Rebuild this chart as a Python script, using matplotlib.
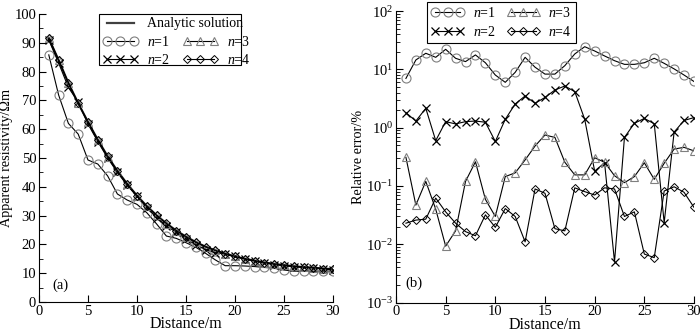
import numpy as np
import matplotlib.pyplot as plt
from matplotlib.patches import Rectangle
from matplotlib.ticker import MultipleLocator, LogLocator, NullFormatter

plt.rcParams['font.family'] = ['Liberation Serif', 'DejaVu Serif']
plt.rcParams['mathtext.fontset'] = 'custom'
plt.rcParams['mathtext.rm'] = 'Liberation Serif'
plt.rcParams['mathtext.it'] = 'Liberation Serif:italic'
plt.rcParams['font.size'] = 10

# Distance along profile (m)
distance = np.arange(1, 31)

# (a) apparent resistivity, Ohm m
rho_analytic = [91.5, 84.0, 76.0, 69.0, 62.5, 56.3, 50.6, 45.5, 41.0, 36.9,
                33.3, 30.1, 27.3, 24.8, 22.7, 20.8, 19.2, 17.9, 16.8, 15.8,
                15.0, 14.3, 13.7, 13.2, 12.8, 12.4, 12.1, 11.9, 11.6, 11.4]
rho_n1 = [85.8, 71.9, 62.0, 58.3, 49.3, 47.9, 43.8, 37.5, 35.4, 33.9,
          31.0, 27.1, 22.9, 22.1, 20.6, 19.0, 16.9, 14.6, 12.6, 12.6,
          12.5, 12.3, 12.0, 11.7, 11.1, 10.7, 10.7, 10.7, 10.7, 10.7]
rho_n2 = [91.0, 83.0, 74.5, 69.4, 61.8, 55.7, 50.0, 45.0, 40.5, 36.7,
          32.8, 29.3, 26.4, 24.2, 21.9, 19.9, 18.2, 17.1, 16.6, 15.8,
          15.0, 14.3, 13.6, 13.0, 12.6, 12.3, 12.1, 11.8, 11.5, 11.2]
rho_n3 = [91.8, 84.0, 76.1, 69.0, 62.5, 56.3, 50.5, 45.4, 41.0, 36.9,
          33.2, 30.1, 27.2, 24.7, 22.5, 20.7, 19.2, 17.9, 16.8, 15.8,
          15.0, 14.3, 13.7, 13.2, 12.8, 12.4, 12.1, 11.9, 11.6, 11.4]
rho_n4 = [91.5, 84.0, 76.0, 69.0, 62.5, 56.3, 50.6, 45.5, 41.0, 36.9,
          33.3, 30.1, 27.3, 24.8, 22.7, 20.8, 19.2, 17.9, 16.8, 15.8,
          15.0, 14.3, 13.7, 13.2, 12.8, 12.4, 12.1, 11.9, 11.6, 11.4]

# (b) relative error, %
err_n1 = [7.0, 14.5, 18.9, 16.1, 22.1, 15.5, 13.6, 17.7, 13.0, 8.0,
          6.0, 8.9, 16.1, 10.9, 8.3, 8.3, 11.6, 18.4, 24.5, 20.7,
          17.0, 14.1, 12.2, 12.2, 13.0, 15.5, 12.7, 10.2, 8.0, 6.2]
err_n2 = [1.81, 1.30, 2.15, 0.60, 1.27, 1.16, 1.27, 1.30, 1.24, 0.58,
          1.39, 2.55, 3.50, 2.62, 3.30, 4.43, 5.19, 4.15, 1.39, 0.18,
          0.25, 0.005, 0.68, 1.19, 1.44, 1.17, 0.0234, 0.84, 1.33, 1.49]
err_n3 = [0.31, 0.047, 0.12, 0.040, 0.0093, 0.017, 0.12, 0.26, 0.059, 0.030,
          0.145, 0.168, 0.28, 0.485, 0.75, 0.68, 0.255, 0.155, 0.155, 0.305,
          0.255, 0.15, 0.114, 0.145, 0.25, 0.13, 0.245, 0.43, 0.46, 0.40]
err_n4 = [0.023, 0.026, 0.027, 0.062, 0.036, 0.023, 0.0165, 0.014, 0.032, 0.0195,
          0.041, 0.030, 0.011, 0.089, 0.075, 0.0185, 0.017, 0.093, 0.080, 0.070,
          0.093, 0.089, 0.030, 0.036, 0.0068, 0.0059, 0.082, 0.097, 0.078, 0.043]

gray = '#7f7f7f'
styles = {
    'n1': dict(marker='o', ms=6.5, mec=gray, mfc='none', mew=0.8),
    'n2': dict(marker='x', ms=5.5, mec='black', mew=0.9),
    'n3': dict(marker='^', ms=5.5, mec=gray, mfc='none', mew=0.8),
    'n4': dict(marker='D', ms=4.0, mec='black', mfc='none', mew=0.7),
}
labels = {'n1': '$n$=1', 'n2': '$n$=2', 'n3': '$n$=3', 'n4': '$n$=4'}

fig = plt.figure(figsize=(7.0, 3.32), dpi=100)
ax1 = fig.add_axes([0.0557, 0.0904, 0.42, 0.8675])
ax2 = fig.add_axes([0.5657, 0.0886, 0.4257, 0.878])

for ax in (ax1, ax2):
    ax.spines['top'].set_visible(False)
    ax.spines['right'].set_visible(False)
    ax.tick_params(which='both', direction='in', labelsize=10.5, pad=2)
    ax.tick_params(which='major', length=5)
    ax.tick_params(which='minor', length=3)
    ax.set_xlim(0, 30)
    ax.xaxis.set_major_locator(MultipleLocator(5))
    ax.set_xlabel('Distance/m', fontsize=11.5, labelpad=-1)

# ---- (a)
la, = ax1.plot(distance, rho_analytic, color='#404040', lw=1.6, label='Analytic solution')
h = {}
h['n1'], = ax1.plot(distance, rho_n1, color='black', lw=0.8, label=labels['n1'], **styles['n1'])
h['n2'], = ax1.plot(distance, rho_n2, color='black', lw=0.8, label=labels['n2'], **styles['n2'])
h['n3'], = ax1.plot(distance, rho_n3, color='black', lw=0.8, label=labels['n3'], **styles['n3'])
h['n4'], = ax1.plot(distance, rho_n4, color='black', lw=0.8, label=labels['n4'], **styles['n4'])
ax1.set_ylim(0, 100)
ax1.yaxis.set_major_locator(MultipleLocator(10))
ax1.yaxis.set_minor_locator(MultipleLocator(5))
ax1.set_ylabel('Apparent resistivity/Ωm', fontsize=10.3, labelpad=1)
ax1.text(0.047, 0.045, '(a)', transform=ax1.transAxes, fontsize=10.5)

leg_kw = dict(frameon=False, handlelength=2.6, handletextpad=0.6, borderpad=0.25,
              borderaxespad=0, numpoints=3, fontsize=10, labelspacing=0.3)
lg1 = ax1.legend(handles=[la], loc='upper left', bbox_to_anchor=(0.204, 1.0), **leg_kw)
ax1.add_artist(lg1)
ax1.legend(handles=[h['n1'], h['n2'], h['n3'], h['n4']], ncol=2, columnspacing=0.9,
           loc='upper left', bbox_to_anchor=(0.204, 0.94), **leg_kw)
ax1.add_patch(Rectangle((0.204, 0.823), 0.482, 0.177, transform=ax1.transAxes,
                        fill=False, lw=0.8, ec='black', clip_on=False))

# ---- (b)
g = {}
g['n1'], = ax2.plot(distance, err_n1, color='black', lw=0.8, label=labels['n1'], **styles['n1'])
g['n2'], = ax2.plot(distance, err_n2, color='black', lw=0.8, label=labels['n2'], **styles['n2'])
g['n3'], = ax2.plot(distance, err_n3, color='black', lw=0.8, label=labels['n3'], **styles['n3'])
g['n4'], = ax2.plot(distance, err_n4, color='black', lw=0.8, label=labels['n4'], **styles['n4'])
ax2.set_yscale('log')
ax2.set_ylim(1e-3, 1e2)
ax2.yaxis.set_major_locator(LogLocator(base=10, numticks=10))
ax2.yaxis.set_minor_locator(LogLocator(base=10, subs=np.arange(2, 10), numticks=20))
ax2.yaxis.set_minor_formatter(NullFormatter())
ax2.set_ylabel('Relative error/%', fontsize=10.3, labelpad=1)
ax2.text(0.03, 0.055, '(b)', transform=ax2.transAxes, fontsize=10.5)

lg = ax2.legend(handles=[g['n1'], g['n2'], g['n3'], g['n4']], ncol=2, loc='upper left',
                bbox_to_anchor=(0.103, 1.031), frameon=True, fancybox=False,
                edgecolor='black', framealpha=1, handlelength=2.4, handletextpad=0.6,
                borderpad=0.3, borderaxespad=0, numpoints=3, fontsize=10,
                labelspacing=0.35, columnspacing=0.8)
lg.get_frame().set_linewidth(0.8)

fig.savefig('out.png', dpi=100)
